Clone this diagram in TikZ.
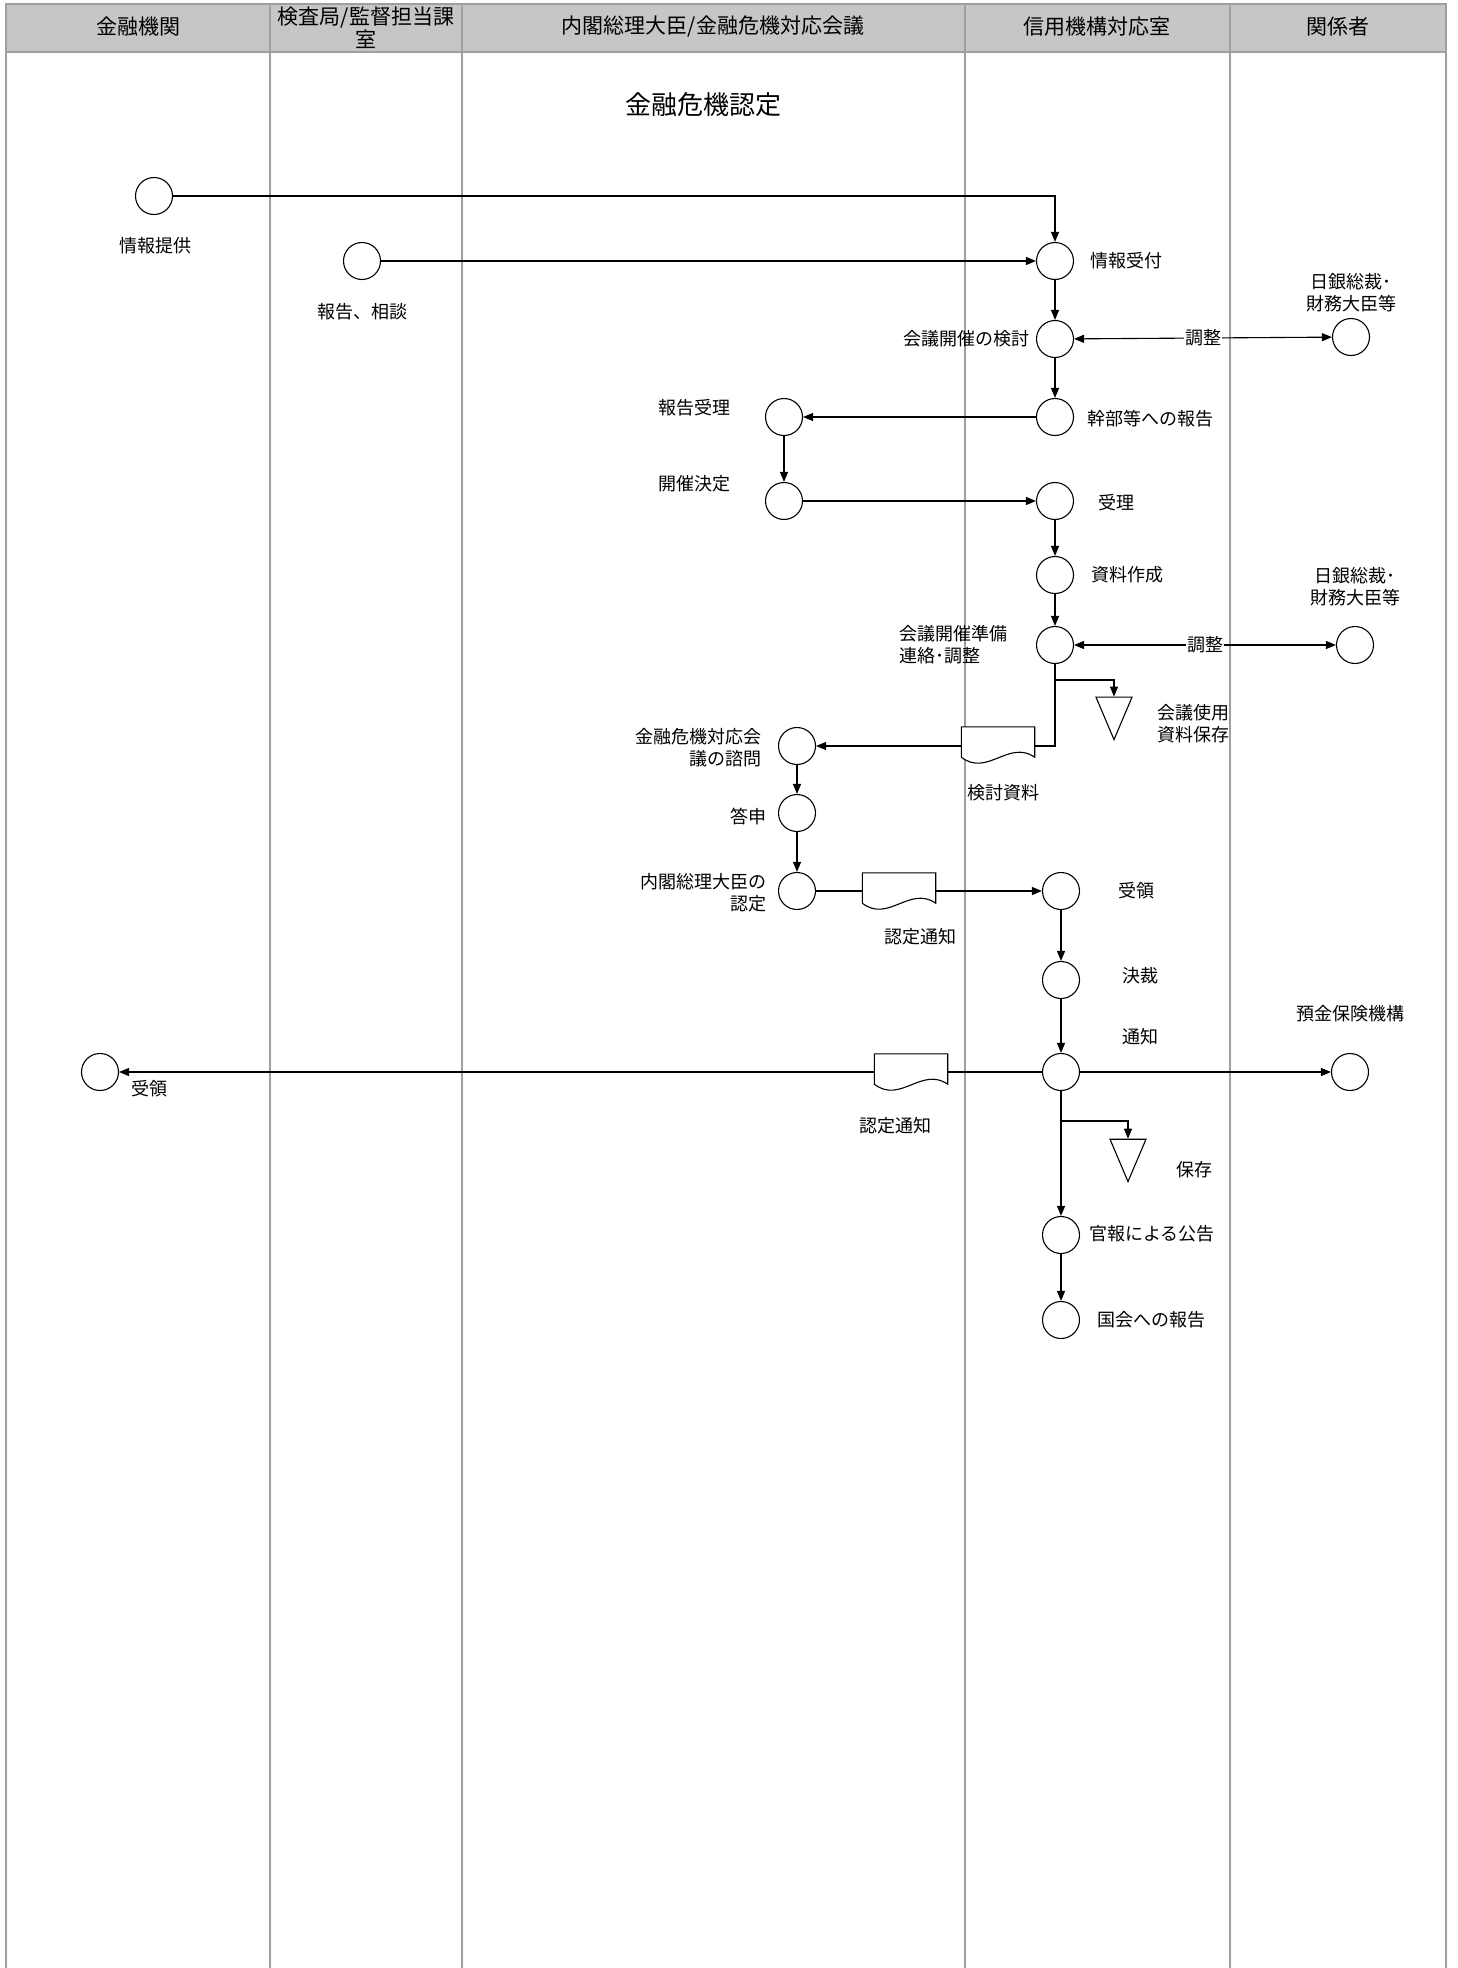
\documentclass[tikz,border=0pt]{standalone}
\usepackage{fontspec}
\setmainfont{Noto Sans CJK JP}
\usetikzlibrary{arrows.meta,positioning,shapes.geometric}
\tikzset{
  maru/.style={circle,draw,line width=1.1pt,fill=white,minimum size=37pt,inner sep=0pt},
  ya/.style={-{Triangle[length=10pt,width=8pt]},line width=1.1pt},
  ryouya/.style={{Triangle[length=10pt,width=8pt]}-{Triangle[length=10pt,width=8pt]},line width=1.1pt},
  sen/.style={line width=1.1pt},
  lbl/.style={font=\fontsize{18}{22}\selectfont,inner sep=0pt},
  hozon/.style={draw,fill=white,line width=1.1pt,isosceles triangle,isosceles triangle apex angle=46,
    shape border rotate=270,minimum width=36pt,minimum height=36pt,inner sep=0pt},
  shorui/.style={minimum width=73pt,minimum height=36pt,inner sep=0pt},
  retsu/.style={gray!75,line width=1.2pt},
  midashi/.style={font=\fontsize{21}{23}\selectfont,align=center,inner sep=0pt}
}
\newcommand{\shoruiwaku}[1]{%
  \draw[sen,fill=white] (#1.north west) -- (#1.north east) -- ([yshift=6pt]#1.south east)
    .. controls ([xshift=-26pt,yshift=24pt]#1.south east) and ([xshift=26pt,yshift=-14pt]#1.south west)
    .. ([yshift=6pt]#1.south west) -- cycle;}

\begin{document}
\begin{tikzpicture}[x=1pt,y=-1pt]
\useasboundingbox (0,0) rectangle (1457,1968);
% lanes
\fill[gray!45] (6,4) rectangle (1446,52);
\draw[retsu] (6,4) rectangle (1446,52);
\foreach \x in {6,270,462,965,1230,1446}
  \draw[retsu] (\x,4) -- (\x,1968);
\node[midashi] (h1) at (138,27) {金融機関};
\node[midashi] (h2) at (366,28) {検査局/監督担当課\\室};
\node[midashi] (h3) at (713,27) {内閣総理大臣/金融危機対応会議};
\node[midashi] (h4) at (1097,27) {信用機構対応室};
\node[midashi] (h5) at (1338,27) {関係者};
\node[font=\fontsize{26}{28}\selectfont] (title) at (703,105) {金融危機認定};

% circles
\node[maru] (teikyou) at (154,196) {};
\node[maru] (soudan) at (362,261) {};
\node[maru] (uketsuke) at (1055,261) {};
\node[maru] (kentou) at (1055,339) {};
\node[maru] (nichigin1) at (1351,337) {};
\node[maru] (kanbu) at (1055,417) {};
\node[maru] (juri) at (784,417) {};
\node[maru] (kettei) at (784,501) {};
\node[maru] (juri2) at (1055,501) {};
\node[maru] (sakusei) at (1055,575) {};
\node[maru] (junbi) at (1055,645) {};
\node[maru] (nichigin2) at (1355,645) {};
\node[maru] (shimon) at (797,746) {};
\node[maru] (toushin) at (797,813) {};
\node[maru] (nintei) at (797,891) {};
\node[maru] (juryou) at (1061,891) {};
\node[maru] (kessai) at (1061,980) {};
\node[maru] (tsuuchi) at (1061,1072) {};
\node[maru] (yokin) at (1350,1072) {};
\node[maru] (juryou2) at (100,1072) {};
\node[maru] (kanpou) at (1061,1235) {};
\node[maru] (kokkai) at (1061,1320) {};
\node[hozon,anchor=apex] (hozon1) at (1114,741) {};
\node[hozon,anchor=apex] (hozon2) at (1128,1183) {};
\node[shorui] (kentoushiryou) at (998,745) {};
\node[shorui] (tsuuchisho1) at (899,891) {};
\node[shorui] (tsuuchisho2) at (911,1072) {};
\coordinate (b1) at (1055,680);
\coordinate (b2) at (1055,746);
\coordinate (b3) at (1061,1121);

% connectors
\draw[ya] (teikyou) -| (uketsuke);
\draw[ya] (soudan) -- (uketsuke);
\draw[ya] (uketsuke) -- (kentou);
\draw[ryouya] (kentou) -- node[lbl,fill=white,inner xsep=1pt] {調整} (nichigin1);
\draw[ya] (kentou) -- (kanbu);
\draw[ya] (kanbu) -- (juri);
\draw[ya] (juri) -- (kettei);
\draw[ya] (kettei) -- (juri2);
\draw[ya] (juri2) -- (sakusei);
\draw[ya] (sakusei) -- (junbi);
\draw[ryouya] (junbi) -- node[lbl,fill=white,inner xsep=1pt] {調整} (nichigin2);
\draw[ya] (b1) -| (hozon1.lower side);
\draw[ya] (junbi) -- (b2) -- (shimon);
\draw[ya] (shimon) -- (toushin);
\draw[ya] (toushin) -- (nintei);
\draw[ya] (nintei) -- (juryou);
\draw[ya] (juryou) -- (kessai);
\draw[ya] (kessai) -- (tsuuchi);
\draw[ya] (tsuuchi) -- (juryou2);
\draw[ya] (tsuuchi) -- (yokin);
\draw[ya] (tsuuchi) -- (kanpou);
\draw[ya] (b3) -| (hozon2.lower side);
\draw[ya] (kanpou) -- (kokkai);
\shoruiwaku{kentoushiryou}
\shoruiwaku{tsuuchisho1}
\shoruiwaku{tsuuchisho2}

% labels
\node[lbl] (l1) at (155,246) {情報提供};
\node[lbl] (l2) at (362,312) {報告、相談};
\node[lbl,anchor=west] (l3) at (1090,261) {情報受付};
\node[lbl,anchor=east] (l4) at (1030,339) {会議開催の検討};
\node[lbl,align=center] (l5) at (1351,293) {日銀総裁･\\財務大臣等};
\node[lbl,anchor=west] (l6) at (1087,419) {幹部等への報告};
\node[lbl] (l7) at (694,408) {報告受理};
\node[lbl] (l8) at (694,484) {開催決定};
\node[lbl,anchor=west] (l9) at (1098,503) {受理};
\node[lbl,anchor=west] (l10) at (1091,575) {資料作成};
\node[lbl,align=left,anchor=west] (l11) at (899,645) {会議開催準備\\連絡･調整};
\node[lbl,align=center] (l12) at (1355,587) {日銀総裁･\\財務大臣等};
\node[lbl,align=left,anchor=west] (l13) at (1157,724) {会議使用\\資料保存};
\node[lbl] (l14) at (1003,793) {検討資料};
\node[lbl,align=right,anchor=east] (l15) at (762,748) {金融危機対応会\\議の諮問};
\node[lbl,anchor=east] (l16) at (767,817) {答申};
\node[lbl,align=right,anchor=east] (l17) at (767,893) {内閣総理大臣の\\認定};
\node[lbl] (l18) at (920,937) {認定通知};
\node[lbl,anchor=west] (l19) at (1118,891) {受領};
\node[lbl,anchor=west] (l20) at (1122,976) {決裁};
\node[lbl,anchor=west] (l21) at (1122,1037) {通知};
\node[lbl] (l22) at (1350,1014) {預金保険機構};
\node[lbl,anchor=west] (l23) at (131,1089) {受領};
\node[lbl] (l24) at (895,1126) {認定通知};
\node[lbl,anchor=west] (l25) at (1176,1170) {保存};
\node[lbl,anchor=west] (l26) at (1089,1234) {官報による公告};
\node[lbl,anchor=west] (l27) at (1097,1320) {国会への報告};
\end{tikzpicture}
\end{document}
